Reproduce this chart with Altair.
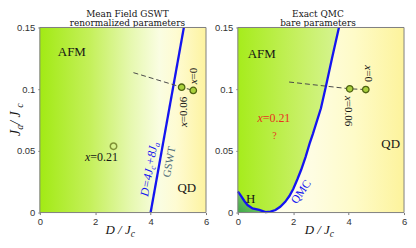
import math
import altair as alt
import pandas as pd

W1, W2, H = 167, 167, 186
LEFT, TOP, BOT, GAP = 31, 18.5, 27.5, 32
DMAX, JMAX = 6.0, 0.15
SERIF = "Liberation Serif"
TSERIF = "DejaVu Serif"
SANS = "Liberation Sans"

# ---------------- data ----------------
d_ticks = [0, 2, 4, 6]
ja_ticks = [0, 0.05, 0.1, 0.15]

# GSWT boundary D = 4Jc + 8Ja
gswt_D = [4.0, 5.2]
gswt_Ja = [0.0, 0.15]

# QMC boundary
qmc_D = [0.0, 0.12, 0.24, 0.35, 0.53, 0.77, 1.0, 1.18, 1.36, 1.53, 1.71, 1.86,
         2.0, 2.15, 2.29, 2.45, 2.59, 2.71, 2.82, 3.0, 3.18, 3.4, 3.65]
qmc_Ja = [0.0171, 0.0134, 0.0092, 0.0061, 0.0034, 0.0021, 0.0003, 0.0008, 0.0021,
          0.0047, 0.0087, 0.0134, 0.0191, 0.027, 0.0349, 0.0454, 0.0559, 0.0638,
          0.0717, 0.0845, 0.1024, 0.125, 0.15]
h_D = qmc_D[:7]
h_Ja = qmc_Ja[:7]

# sample points
mf_filled_D = [5.12, 5.54]
mf_filled_Ja = [0.1016, 0.099]
mf_open_D = [2.66]
mf_open_Ja = [0.0538]
qm_pts_D = [4.04, 4.62]
qm_pts_Ja = [0.1003, 0.0997]

# dashed guides
mf_dash_D = [3.38, 5.12, 5.54]
mf_dash_Ja = [0.1134, 0.1016, 0.099]
qm_dash_D = [1.85, 4.04, 4.62]
qm_dash_Ja = [0.1058, 0.1003, 0.0997]

# panel titles
left_title = ["Mean Field GSWT", "renormalized parameters"]
right_title = ["Exact QMC", "bare parameters"]

# ---------------- helpers ----------------
REG = {'=': .564, '+': .564, '.': .25, ' ': .25, '/': .278, 'x': .5, 'D': .722,
       'J': .389, 'c': .444, 'a': .444}
ITA = {'=': .675, '+': .675, '.': .25, ' ': .25, '/': .278, 'x': .444, 'D': .722,
       'J': .444, 'c': .444, 'a': .5}


def tw(s, size, italic):
    t = ITA if italic else REG
    return sum(t.get(ch, .5) for ch in s) * size


xs = alt.Scale(domain=[0, DMAX], nice=False, zero=False)
ys = alt.Scale(domain=[0, JMAX], nice=False, zero=False)
xax = alt.Axis(values=d_ticks, format="d", title=None, labelFlush=False, labelFont=SANS,
               labelFontSize=9.5, labelColor="#333333", labelPadding=2, tickSize=2,
               tickColor="#777777", domain=False, grid=False)
yax = alt.Axis(values=ja_ticks, format=".2~f", title=None, labelFont=SANS,
               labelFontSize=9.5, labelColor="#333333", labelPadding=3, tickSize=2,
               tickColor="#777777", domain=False, grid=False)


def X(f="D"):
    return alt.X(f + ":Q", scale=xs, axis=xax)


def Y(f="Ja"):
    return alt.Y(f + ":Q", scale=ys, axis=yax)


def txt(D, Ja, text, size, color="#151515", italic=False, angle=0, align="left",
        baseline="alphabetic"):
    df = pd.DataFrame({"D": [D], "Ja": [Ja], "t": [text]})
    return alt.Chart(df).mark_text(font=SERIF, fontSize=size,
                                   fontStyle="italic" if italic else "normal",
                                   color=color, angle=angle, align=align,
                                   baseline=baseline).encode(x=X(), y=Y(), text="t:N")


def ptxt(px, py, text, size, color="#151515", italic=False, angle=0, align="left",
         baseline="alphabetic", font=SERIF):
    df = pd.DataFrame({"t": [text]})
    return alt.Chart(df).mark_text(font=font, fontSize=size,
                                   fontStyle="italic" if italic else "normal",
                                   color=color, angle=angle, align=align,
                                   baseline=baseline).encode(
        x=alt.value(px), y=alt.value(py), text="t:N")


def pieces(D0, Ja0, angle, parts, color, kx, ky, pixel=False):
    th = math.radians(angle)
    dx, dy = math.cos(th), math.sin(th)
    ux, uy = -math.sin(th), math.cos(th)
    out = []
    dist = 0.0
    for text, size, italic, sub in parts:
        ox = dist * dx + sub * ux
        oy = dist * dy + sub * uy
        if pixel:
            out.append(ptxt(D0 + ox, Ja0 + oy, text, size, color, italic, angle))
        else:
            out.append(txt(D0 + ox / kx, Ja0 - oy / ky, text, size, color, italic, angle))
        dist += tw(text, size, italic)
    return out


def grad(stops, x1=0, y1=0, x2=1, y2=0):
    return alt.LinearGradient(gradient="linear",
                              stops=[alt.GradientStop(color=c, offset=o) for o, c in stops],
                              x1=x1, y1=y1, x2=x2, y2=y2)


def frame(W):
    return alt.Chart(pd.DataFrame({"a": [0]})).mark_rect(
        filled=False, color="#7f7f7f", strokeWidth=1).encode(
        x=alt.value(0), x2=alt.value(W), y=alt.value(0), y2=alt.value(H))


def bg(stops):
    df = pd.DataFrame({"D": [0.0], "D2": [DMAX], "Ja": [0.0], "Ja2": [JMAX]})
    return alt.Chart(df).mark_rect(color=grad(stops)).encode(
        x=X(), x2="D2:Q", y=Y(), y2="Ja2:Q")


def line(Ds, Js, **kw):
    df = pd.DataFrame({"D": Ds, "Ja": Js, "i": list(range(len(Ds)))})
    return alt.Chart(df).mark_line(**kw).encode(x=X(), y=Y(), order="i:Q")


def pts(Ds, Js, **kw):
    df = pd.DataFrame({"D": Ds, "Ja": Js})
    return alt.Chart(df).mark_point(**kw).encode(x=X(), y=Y())


def titles(cx, lines):
    return [ptxt(cx, -10.8, lines[0], 9, align="center", font=TSERIF),
            ptxt(cx, -1.3, lines[1], 9, align="center", font=TSERIF)]


BLUE = "#1414f0"
RED = "#e8321e"
kx1, kx2, ky = W1 / DMAX, W2 / DMAX, H / JMAX
XT = H + 22  # baseline of the D/Jc axis title

# ---------------- left panel ----------------
spacer = alt.Chart(pd.DataFrame({"a": [0]})).mark_rect(opacity=0).encode(
    x=alt.value(-LEFT), x2=alt.value(W1), y=alt.value(-TOP), y2=alt.value(H + BOT))

L = [spacer,
     bg([(0, "#a2ea14"), (0.3, "#c4f05a"), (0.55, "#e6f8b0"), (0.72, "#fafde2"),
         (0.82, "#fefbd2"), (1, "#fdf3a0")]),
     line(gswt_D, gswt_Ja, color=BLUE, strokeWidth=2.3),
     line(mf_dash_D, mf_dash_Ja, color="#4a4a4a", strokeWidth=1, strokeDash=[5, 3]),
     pts(mf_filled_D, mf_filled_Ja, filled=True, size=42, fill="#a9d03c",
         stroke="#4f6412", strokeWidth=1.3, opacity=1, shape="circle"),
     pts(mf_open_D, mf_open_Ja, filled=False, size=42, color="#5c6a14",
         strokeWidth=1.5, shape="circle"),
     txt(0.65, 0.1268, "AFM", 13),
     txt(4.97, 0.0165, "QD", 13),
     txt(4.69, 0.041, "GSWT", 11, color="#4d6b78", angle=280, align="center",
         baseline="middle"),
     ]
L += pieces(1.63, 0.0415, 0, [("x", 12, True, 0), ("=0.21", 12, False, 0)], "#151515", kx1, ky)
L += pieces(5.325, 0.0693, 270, [("x", 11, True, 0), ("=0.06", 11, False, 0)], "#151515", kx1, ky)
L += pieces(5.68, 0.104, 270, [("x", 11, True, 0), ("=0", 11, False, 0)], "#151515", kx1, ky)
L += pieces(3.905, 0.0126, 280, [("D=4J", 12, True, 0), ("c", 8.5, True, 2.5),
                                  ("+8J", 12, True, 0), ("a", 8.5, True, 2.5)], BLUE, kx1, ky)
L += titles(88, left_title)
L += pieces(66, XT, 0, [("D / J", 13, True, 0), ("c", 9.5, True, 3)], "#151515", 1, 1, pixel=True)
L += pieces(-19.5, 109, 270, [("J", 14, True, 0), ("a", 10, True, 3), (" / J", 14, True, 0),
                              ("c", 10, True, 3)], "#151515", 1, 1, pixel=True)
L.append(frame(W1))
left = alt.layer(*L).properties(width=W1, height=H)

# ---------------- right panel ----------------
green = alt.Chart(pd.DataFrame({"D": qmc_D, "Ja": qmc_Ja})).mark_area(
    color=grad([(0, "#a6ec1c"), (0.6, "#c6f062"), (1, "#d6f492")])).encode(
    x=X(), y=Y(), y2=alt.datum(JMAX))
hreg = alt.Chart(pd.DataFrame({"D": h_D, "Ja": h_Ja})).mark_area(
    color=grad([(0, "#3ea848"), (1, "#a6e27a")], x1=0, y1=1, x2=1, y2=0)).encode(
    x=X(), y=Y(), y2=alt.datum(0))

R = [bg([(0, "#fffff4"), (0.45, "#fefde2"), (0.7, "#fefbc8"), (1, "#fdf39c")]),
     green, hreg,
     line(qmc_D, qmc_Ja, color=BLUE, strokeWidth=2.3),
     line(qm_dash_D, qm_dash_Ja, color="#4a4a4a", strokeWidth=1, strokeDash=[5, 3]),
     pts(qm_pts_D, qm_pts_Ja, filled=True, size=42, fill="#a9d03c",
         stroke="#4f6412", strokeWidth=1.3, opacity=1, shape="circle"),
     txt(0.353, 0.1254, "AFM", 13),
     txt(5.18, 0.052, "QD", 13),
     txt(0.295, 0.0079, "H", 13),
     txt(1.32, 0.060, "?", 10, color=RED, align="center"),
     txt(2.3, 0.0165, "QMC", 11.5, color=BLUE, angle=305, align="center",
         baseline="middle"),
     ]
R += pieces(0.706, 0.0735, 0, [("x", 12, True, 0), ("=0.21", 12, False, 0)], RED, kx2, ky)
R += pieces(3.88, 0.0945, 90, [("x", 11, True, 0), ("=0.06", 11, False, 0)], "#151515", kx2, ky)
R += pieces(4.59, 0.1193, 90, [("x", 11, True, 0), ("=0", 11, False, 0)], "#151515", kx2, ky)
R += titles(80.5, right_title)
R += pieces(67.2, XT, 0, [("D / J", 13, True, 0), ("c", 9.5, True, 3)], "#151515", 1, 1, pixel=True)
R.append(frame(W2))
right = alt.layer(*R).properties(width=W2, height=H)

chart = alt.hconcat(left, right, spacing=GAP, bounds="flush").properties(
    padding=0).configure_view(stroke="transparent")

chart.save("out.html", embed_options={"renderer": "svg", "actions": False})
